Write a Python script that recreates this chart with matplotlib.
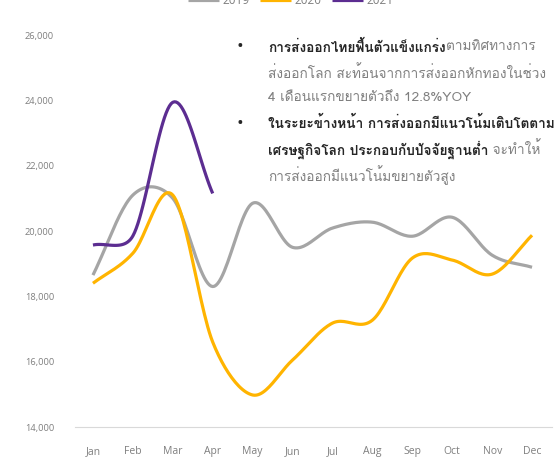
import numpy as np
import matplotlib
matplotlib.use('Agg')
import matplotlib.pyplot as plt
from matplotlib import font_manager, ft2font

## data
months = ['Jan', 'Feb', 'Mar', 'Apr', 'May', 'Jun', 'Jul', 'Aug', 'Sep', 'Oct', 'Nov', 'Dec']
y2019 = [18650, 21100, 21000, 18300, 20850, 19500, 20090, 20270, 19840, 20420, 19260, 18890]
y2020 = [18400, 19320, 21100, 16600, 14980, 16050, 17180, 17270, 19170, 19110, 18680, 19870]
y2021 = [19570, 19850, 23940, 21150]
yticks = [14000, 16000, 18000, 20000, 22000, 24000, 26000]

## find a font with thai glyphs, if there is one
thai = []
for f in font_manager.fontManager.ttflist:
    try:
        if 0x0E01 in ft2font.FT2Font(f.fname).get_charmap() and f.name not in thai:
            thai.append(f.name)
    except Exception:
        pass
thai_family = thai[:1] + ['Open Sans', 'DejaVu Sans']
plt.rcParams['font.family'] = ['Open Sans', 'DejaVu Sans']

# pixels per unit, used only to shape the smoothing like excel does
SX, SY = 40.1, 0.0327


def smooth(y, n=25, clamp=0.45):
    # catmull-rom bezier in pixel space, handles kept shorter than part of the chord
    P = np.column_stack([np.arange(len(y)) * SX, np.asarray(y, float) * SY])
    k = len(P)
    L = np.hypot(*np.diff(P, axis=0).T)
    out_c, in_c = P.copy(), P.copy()
    for i in range(1, k - 1):
        h = (P[i + 1] - P[i - 1]) / 6
        hl = np.hypot(*h)
        in_c[i] = P[i] - h * min(1, clamp * L[i - 1] / hl)
        out_c[i] = P[i] + h * min(1, clamp * L[i] / hl)
    out_c[0] = P[0] + (P[1] - P[0]) / 3
    in_c[-1] = P[-1] - (P[-1] - P[-2]) / 3
    t = np.linspace(0, 1, n)[:, None]
    pts = []
    for i in range(k - 1):
        a, b, c, d = P[i], out_c[i], in_c[i + 1], P[i + 1]
        pts.append((1 - t) ** 3 * a + 3 * (1 - t) ** 2 * t * b + 3 * (1 - t) * t ** 2 * c + t ** 3 * d)
    pts = np.vstack(pts)
    return pts[:, 0] / SX, pts[:, 1] / SY


fig = plt.figure(figsize=(5.56, 4.73), dpi=100)
ax = fig.add_axes([75 / 556, 46 / 473, 477 / 556, 392 / 473])

for data, col, lab in [(y2019, '#a5a5a5', '2019'), (y2020, '#ffb400', '2020'), (y2021, '#5c2d91', '2021')]:
    xs, ys = smooth(data)
    ax.plot(xs, ys, color=col, lw=2.3, label=lab, solid_capstyle='butt')

ax.set_xlim(-0.45, 11.5)
ax.set_ylim(14000, 26000)
ax.set_xticks(range(12))
ax.set_xticklabels(months)
ax.set_yticks(yticks)
ax.set_yticklabels([f'{v:,}' for v in yticks])
for s in ['top', 'right', 'left']:
    ax.spines[s].set_visible(False)
ax.spines['bottom'].set_color('#d9d9d9')
ax.tick_params(length=0, colors='#7f7f7f')
ax.tick_params(axis='x', labelsize=7.5, pad=14)
ax.tick_params(axis='y', labelsize=6.7, pad=15)

fig.legend(loc='center', bbox_to_anchor=(0.523, 0.998), ncol=3, frameon=False, fontsize=8.5,
           handlelength=2.6, handletextpad=0.3, columnspacing=0.9, labelcolor='#7f7f7f')

## the notes on the right
lines = [
    (True, [('การส่งออกไทยฟื้นตัวแข็งแกร่ง', True), ('ตามทิศทางการ', False)]),
    (False, [('ส่งออกโลก สะท้อนจากการส่งออกหักทองในช่วง', False)]),
    (False, [('4 เดือนแรกขยายตัวถึง 12.8%YOY', False)]),
    (True, [('ในระยะข้างหน้า การส่งออกมีแนวโน้มเติบโตตาม', True)]),
    (False, [('เศรษฐกิจโลก ประกอบกับปัจจัยฐานต่ำ', True), (' จะทำให้', False)]),
    (False, [('การส่งออกมีแนวโน้มขยายตัวสูง', False)]),
]
fig.canvas.draw()
r = fig.canvas.get_renderer()
ypix = 47
for bullet, parts in lines:
    if bullet:
        fig.text(240 / 556, 1 - ypix / 473, '•', fontsize=13, color='#262626', va='center', ha='center')
    x = 268
    for txt, bold in parts:
        t = fig.text(x / 556, 1 - ypix / 473, txt, fontsize=9.8, family=thai_family, va='center',
                     fontweight='bold' if bold else 'normal', color='#262626' if bold else '#808080')
        x += t.get_window_extent(r).width
    ypix += 25.6

fig.savefig('out.png', dpi=100)
